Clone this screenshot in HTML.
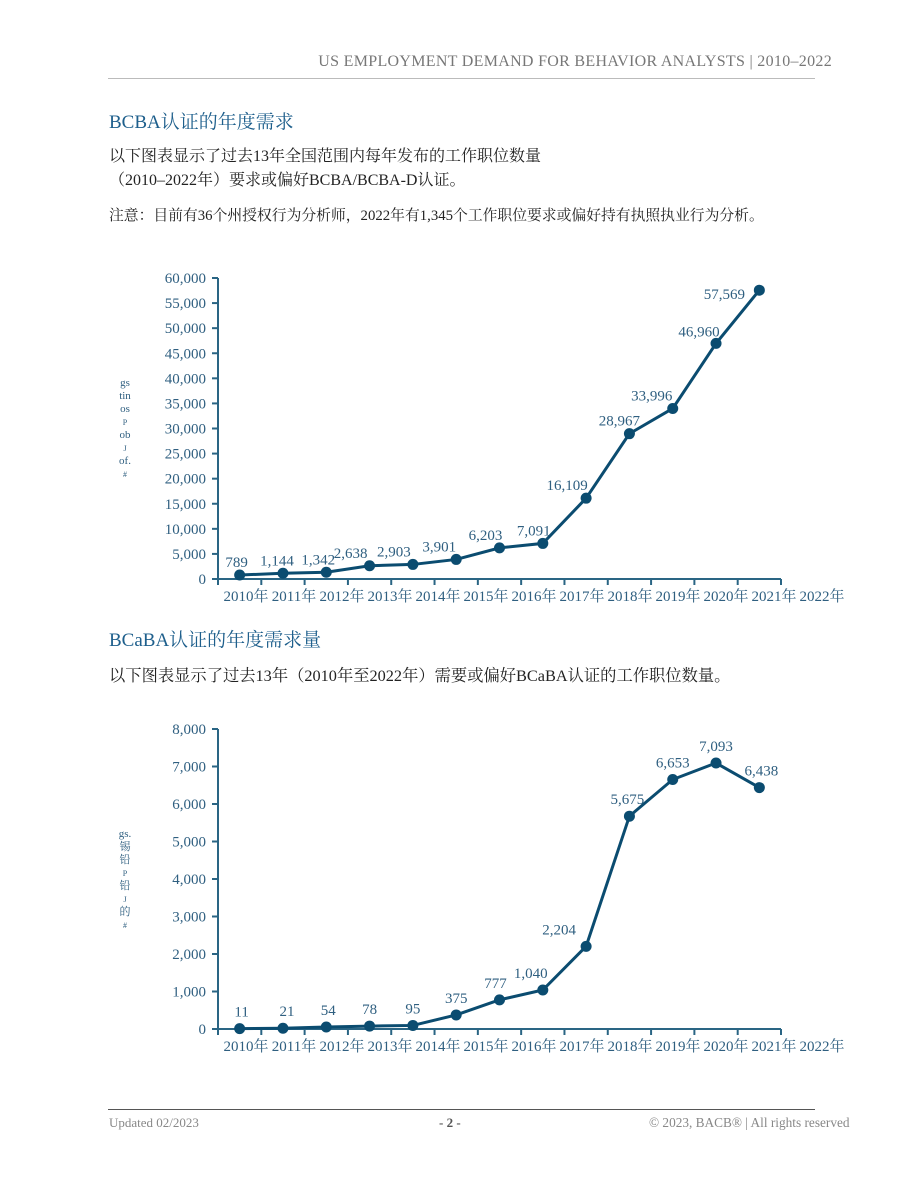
<!DOCTYPE html>
<html><head><meta charset="utf-8">
<style>
body{margin:0;width:920px;height:1191px;background:#fff;position:relative;font-family:"Liberation Serif","Noto Serif CJK SC","Noto Sans CJK SC",serif;overflow:hidden}
.a{position:absolute;white-space:nowrap}
</style></head><body>
<div class="a" style="right:88px;top:53px;font-size:16px;color:#777;letter-spacing:0.3px">US EMPLOYMENT DEMAND FOR BEHAVIOR ANALYSTS | 2010–2022</div>
<div class="a" style="left:108px;top:78px;width:707px;height:1px;background:#bbb"></div>
<div class="a" style="left:109px;top:107px;font-size:19px;color:#1e5f8c">BCBA认证的年度需求</div>
<div class="a" style="left:109px;top:145px;font-size:16px;color:#222;line-height:24px">以下图表显示了过去13年全国范围内每年发布的工作职位数量<br>（2010–2022年）要求或偏好BCBA/BCBA-D认证。</div>
<div class="a" style="left:109px;top:204px;font-size:14.8px;color:#222">注意：目前有36个州授权行为分析师，2022年有1,345个工作职位要求或偏好持有执照执业行为分析。</div>
<div class="a" style="left:109px;top:625px;font-size:19px;color:#1e5f8c">BCaBA认证的年度需求量</div>
<div class="a" style="left:109px;top:662px;font-size:16.3px;color:#222">以下图表显示了过去13年（2010年至2022年）需要或偏好BCaBA认证的工作职位数量。</div>
<svg class="a" style="left:0;top:0" width="920" height="1191" id="s"></svg>
<div class="a" style="left:108px;top:1109px;width:707px;height:1px;background:#555"></div>
<div class="a" style="left:109px;top:1115px;font-size:13px;color:#888">Updated 02/2023</div>
<div class="a" style="left:439px;top:1115px;font-size:13px;color:#555;font-weight:bold">- 2 -</div>
<div class="a" style="left:649px;top:1115px;font-size:13.3px;color:#888">© 2023, BACB® | All rights reserved</div>
<script>
const years=["2010年","2011年","2012年","2013年","2014年","2015年","2016年","2017年","2018年","2019年","2020年","2021年","2022年"];
const bcbaValues=[789,1144,1342,2638,2903,3901,6203,7091,16109,28967,33996,46960,57569];
const bcbaTicks=[0,5000,10000,15000,20000,25000,30000,35000,40000,45000,50000,55000,60000];
const bcabaValues=[11,21,54,78,95,375,777,1040,2204,5675,6653,7093,6438];
const bcabaTicks=[0,1000,2000,3000,4000,5000,6000,7000,8000];
const bcbaYTitle=["gs","tin","os","P","ob","J","of.","#"];
const bcabaYTitle=["gs.","锡","铅","P","铅","J","的","#"];
const S=document.getElementById('s');const NS="http://www.w3.org/2000/svg";
function el(t,a,txt){const e=document.createElementNS(NS,t);for(const k in a)e.setAttribute(k,a[k]);if(txt!==undefined)e.textContent=txt;S.appendChild(e);return e;}
const fmt=v=>v.toLocaleString('en-US');
function chart(id,vals,ticks,yTop,yBot,titleLines,titleY,dxs,dys,baseDy){
  const x0=218,x1=781,max=ticks[ticks.length-1],bw=(x1-x0)/years.length;
  const y=v=>yBot-(v/max)*(yBot-yTop);const x=i=>x0+bw*(i+0.5);
  const c="#2a6584",dark="#0b4c70";
  let e=el('line',{x1:x0,y1:yTop,x2:x0,y2:yBot+6,stroke:c,'stroke-width':2});
  
  e=el('line',{x1:x0-6,y1:yBot,x2:x1,y2:yBot,stroke:c,'stroke-width':2});
  
  ticks.forEach(t=>{
    e=el('line',{x1:x0-6,y1:y(t),x2:x0,y2:y(t),stroke:c,'stroke-width':2});
    
    e=el('text',{x:x0-12,y:y(t)+5,'text-anchor':'end','font-size':15,fill:'#2f5f80'},fmt(t));
    
  });
  years.forEach((yr,i)=>{
    e=el('line',{x1:x0+bw*(i+1),y1:yBot,x2:x0+bw*(i+1),y2:yBot+6,stroke:c,'stroke-width':2});
    
    e=el('text',{x:246+i*48,y:yBot+22,'text-anchor':'middle','font-size':15,fill:'#2f5f80'},yr);
    
  });
  titleLines.forEach((t,i)=>{
    e=el('text',{x:125,y:titleY+i*13,'text-anchor':'middle','font-size':(t.length>1||/[\u4e00-\u9fff]/.test(t))?11:8,fill:'#2f5f80'},t);
    
  });
  e=el('polyline',{points:vals.map((v,i)=>x(i)+','+y(v)).join(' '),fill:'none',stroke:dark,'stroke-width':3});
  
  vals.forEach((v,i)=>{
    e=el('circle',{cx:x(i),cy:y(v),r:5.5,fill:dark});
    
    const dx=dxs[i]||0,dy=(dys[i]!==undefined)?dys[i]:baseDy;
    e=el('text',{x:x(i)+dx,y:y(v)+dy,'text-anchor':'middle','font-size':15,fill:'#2f5f80'},fmt(v));
    
  });
}
chart('bcba',bcbaValues,bcbaTicks,278,579,bcbaYTitle,386,[-3,-6,-8,-19,-19,-17,-14,-9,-19,-10,-21,-17,-35],{11:-7,12:9},-8);
chart('bcaba',bcabaValues,bcabaTicks,729,1029,bcabaYTitle,837,[2,4,2,0,0,0,-4,-12,-27,-2,0,0,2],{},-12);
</script>
</body></html>
